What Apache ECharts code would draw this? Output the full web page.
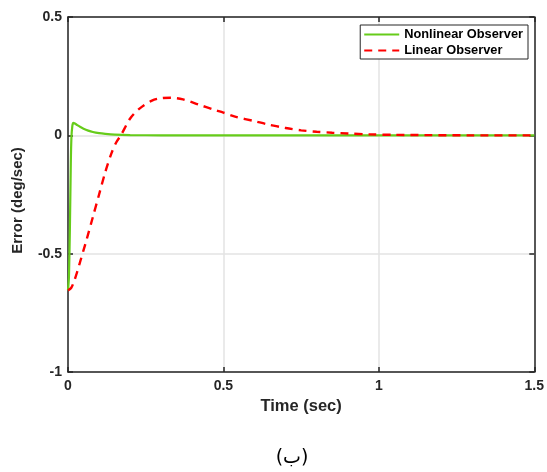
<!DOCTYPE html>
<html>
<head>
<meta charset="utf-8">
<script src="https://cdn.jsdelivr.net/npm/echarts@6/dist/echarts.min.js"></script>
<style>html,body{margin:0;padding:0;background:#fff}#c{width:547px;height:472px}</style>
</head>
<body>
<div id="c"></div>
<script>
// Nonlinear observer error
var timeNL = [0, 0.003, 0.006, 0.009, 0.011, 0.014, 0.017, 0.022, 0.03, 0.04, 0.05, 0.065, 0.08, 0.1, 0.12, 0.15, 0.2, 0.3, 0.5, 1.0, 1.5];
var errNL  = [-0.655, -0.6, -0.4, -0.12, -0.01, 0.04, 0.053, 0.05, 0.043, 0.035, 0.028, 0.02, 0.014, 0.009, 0.006, 0.003, 0.001, 0, 0, 0, 0];
// Linear observer error
var timeL = [0, 0.01, 0.02, 0.03, 0.04, 0.05, 0.06, 0.08, 0.1, 0.12, 0.14, 0.155, 0.17, 0.2, 0.23, 0.27, 0.3, 0.33, 0.37, 0.42, 0.47, 0.5, 0.54, 0.6, 0.64, 0.7, 0.75, 0.8, 0.85, 0.9, 0.97, 1.05, 1.15, 1.3, 1.5];
var errL  = [-0.655, -0.645, -0.615, -0.575, -0.53, -0.485, -0.44, -0.345, -0.25, -0.155, -0.075, -0.03, 0.0, 0.071, 0.113, 0.147, 0.157, 0.159, 0.152, 0.13, 0.108, 0.096, 0.078, 0.06, 0.047, 0.031, 0.021, 0.015, 0.011, 0.008, 0.004, 0.002, 0.001, 0, 0];
var seriesNames = ['Nonlinear Observer', 'Linear Observer'];
var xName = 'Time (sec)';
var yName = 'Error (deg/sec)';
var caption = '(ب)';

function pairs(t, v) { return t.map(function (x, i) { return [x, v[i]]; }); }

var chart = echarts.init(document.getElementById('c'));
var axisColor = '#262626';
var FONT = 'Liberation Sans, Arial, sans-serif';
var lblFont = { color: axisColor, fontWeight: 'bold', fontSize: 14, fontFamily: FONT };
function fmt(v) { return String(v); }
var tickStyle = { show: true, inside: true, length: 5, lineStyle: { color: axisColor, width: 1.5 } };
var lineStyleAx = { show: true, onZero: false, lineStyle: { color: axisColor, width: 1.5 } };
var gridLine = { show: true, lineStyle: { color: '#e3e3e3', width: 1.5 } };
chart.setOption({
  animation: false,
  backgroundColor: '#fff',
  grid: { left: 68, right: 11, top: 17, bottom: 100, containLabel: false },
  legend: {
    orient: 'vertical', right: 19, top: 25,
    backgroundColor: '#fff', borderColor: axisColor, borderWidth: 1,
    padding: [2, 5, 1, 3], itemGap: 1, itemWidth: 35, itemHeight: 10,
    itemStyle: { opacity: 0 },
    textStyle: { color: '#000', fontWeight: 'bold', fontSize: 12.8, fontFamily: FONT, lineHeight: 15 },
    data: seriesNames
  },
  xAxis: [{
    type: 'value', min: 0, max: 1.5, interval: 0.5,
    axisLine: lineStyleAx, axisTick: tickStyle,
    axisLabel: Object.assign({ margin: 7, formatter: fmt }, lblFont),
    splitLine: gridLine,
    name: xName, nameLocation: 'middle', nameGap: 24,
    nameTextStyle: { color: axisColor, fontWeight: 'bold', fontSize: 16.5, fontFamily: FONT }
  }, {
    type: 'value', min: 0, max: 1.5, interval: 0.5, position: 'top',
    axisLine: lineStyleAx, axisTick: tickStyle,
    axisLabel: { show: false }, splitLine: { show: false }
  }],
  yAxis: [{
    type: 'value', min: -1, max: 0.5, interval: 0.5,
    axisLine: lineStyleAx, axisTick: tickStyle,
    axisLabel: Object.assign({ margin: 6, formatter: fmt }, lblFont),
    splitLine: gridLine,
    name: yName, nameLocation: 'middle', nameGap: 43,
    nameTextStyle: { color: axisColor, fontWeight: 'bold', fontSize: 15, fontFamily: FONT, padding: [0, 12, 0, 0] }
  }, {
    type: 'value', min: -1, max: 0.5, interval: 0.5, position: 'right',
    axisLine: lineStyleAx, axisTick: tickStyle,
    axisLabel: { show: false }, splitLine: { show: false }
  }],
  graphic: [{
    type: 'text', x: 292, y: 458,
    style: { text: caption, fontSize: 19, fill: '#000', fontFamily: 'DejaVu Sans, Noto Sans, sans-serif', align: 'center', verticalAlign: 'middle' }
  }],
  series: [{
    name: seriesNames[1], type: 'line', data: pairs(timeL, errL), showSymbol: false, symbol: 'none',
    smooth: 0.3, lineStyle: { color: '#ff0000', width: 2.4, type: [8, 6] }, itemStyle: { color: '#ff0000' }, z: 3
  }, {
    name: seriesNames[0], type: 'line', data: pairs(timeNL, errNL), showSymbol: false, symbol: 'none',
    smooth: 0.2, lineStyle: { color: '#66cc1a', width: 2.2 }, itemStyle: { color: '#66cc1a' }, z: 2
  }]
});
</script>
</body>
</html>
